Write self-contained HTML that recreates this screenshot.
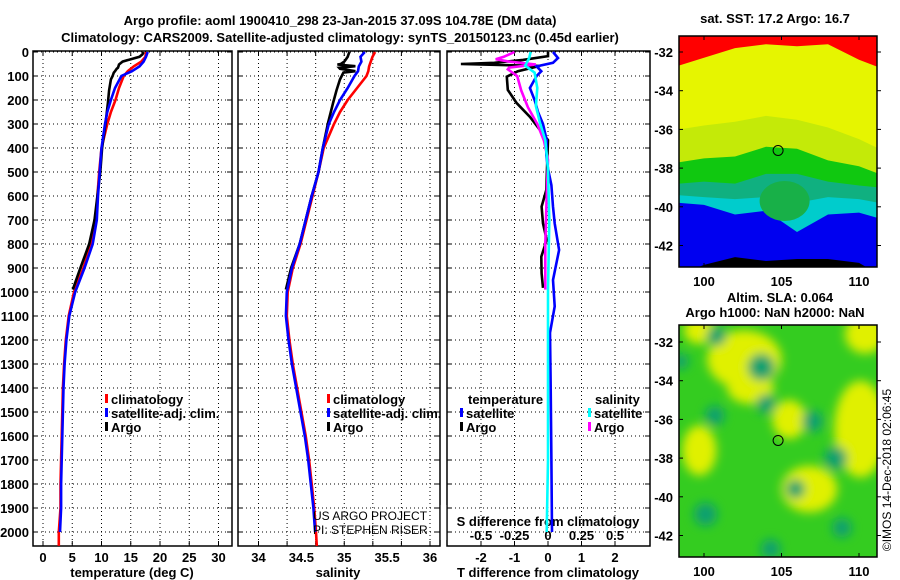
<!DOCTYPE html>
<html><head><meta charset="utf-8"><style>
body{margin:0;background:#fff}
svg{display:block}
text{font-family:"Liberation Sans",sans-serif;font-weight:bold;font-size:13px;fill:#000}
text.thin{font-weight:normal;font-size:12px}
</style></head><body>
<svg id="s" width="900" height="580" viewBox="0 0 900 580" xmlns="http://www.w3.org/2000/svg">
<text x="340" y="25" text-anchor="middle" font-size="14">Argo profile: aoml 1900410_298 23-Jan-2015 37.09S 104.78E (DM data)</text>
<text x="340" y="42" text-anchor="middle" font-size="14">Climatology: CARS2009. Satellite-adjusted climatology: synTS_20150123.nc (0.45d earlier)</text>
<g id="g"></g>
</svg>
<script>
// ---------- profile data ----------
const climDepth=[0,20,40,60,80,100,150,200,250,300,400,500,600,700,800,900,1000,1100,1200,1300,1400,1500,1600,1700,1800,1900,2000,2058];
const climT=[17.6,17.5,16.8,15.5,14.5,13.8,13.0,12.4,11.6,11.0,10.0,9.6,9.3,9.0,8.2,6.9,5.3,4.4,3.9,3.6,3.4,3.3,3.2,3.1,3.0,3.0,2.7,2.7];
const climS=[35.36,35.33,35.31,35.29,35.28,35.26,35.15,35.04,34.95,34.88,34.76,34.70,34.63,34.56,34.49,34.40,34.34,34.33,34.36,34.40,34.45,34.50,34.55,34.59,34.62,34.65,34.67,34.68];
const satDepth=[0,20,40,60,80,100,150,200,250,300,400,500,600,700,800,900,1000,1100,1200,1300,1400,1500,1600,1700,1800,1900,2000];
const satT=[17.9,17.6,17.2,16.5,15.2,13.4,12.3,11.6,11.0,10.6,10.0,9.7,9.4,9.2,8.5,7.1,5.5,4.5,4.0,3.7,3.5,3.4,3.3,3.2,3.1,3.1,2.9];
const satS=[35.24,35.19,35.20,35.17,35.16,35.12,35.04,34.95,34.88,34.82,34.75,34.70,34.62,34.55,34.48,34.39,34.33,34.32,34.35,34.39,34.44,34.49,34.54,34.58,34.61,34.64,34.66];
const argoDepth=[0,10,20,30,40,50,52,59,66,70,80,86,100,114,160,212,296,400,500,600,700,800,900,990];
const argoT=[17.2,17.0,16.5,15.0,13.6,13.1,13.0,12.9,12.8,12.6,12.3,12.1,11.9,11.6,11.3,11.1,10.7,10.1,9.8,9.3,8.8,7.9,6.4,5.1];
const argoS=[35.06,35.05,35.04,35.02,35.00,34.96,34.92,35.13,34.94,34.95,35.13,34.99,34.97,34.95,34.91,34.87,34.81,34.75,34.70,34.62,34.55,34.48,34.38,34.32];
const dTDepth=[0,17,33,45,50,58,80,103,158,212,270,325,367,450,575,644,714,783,853,922,983];
const argoDT=[0.0,0.0,-0.75,-1.6,-2.6,-0.24,-0.9,-1.23,-1.2,-0.94,-0.54,-0.24,0.0,-0.02,-0.05,-0.19,-0.15,-0.04,-0.2,-0.19,-0.15];
const satDTDepth=[0,25,45,60,80,100,150,200,250,300,367,430,486,555,644,714,825,880,950,1060,1170,1400,1700,2000];
const satDT=[0.15,0.3,0.15,-0.34,-0.2,-0.34,-0.54,-0.4,-0.3,-0.15,-0.04,-0.05,0.0,0.1,0.15,0.2,0.33,0.25,0.15,0.2,0.06,0.08,0.1,0.12];
const dSDepth=[0,20,30,40,52,65,72,100,160,230,300,370,450,600,800,990];
const argoDS=[-0.25,-0.33,-0.39,-0.29,-0.09,-0.29,-0.3,-0.23,-0.2,-0.15,-0.08,-0.03,0.0,-0.01,-0.02,-0.02];
const satDSDepth=[0,25,57,86,150,226,296,367,487,700,1000,1400,1700,2000];
const satDS=[-0.13,-0.14,-0.17,-0.1,-0.08,-0.09,-0.06,-0.02,0.0,0.01,0.0,0.0,0.0,-0.01];
const depthTicks=[0,100,200,300,400,500,600,700,800,900,1000,1100,1200,1300,1400,1500,1600,1700,1800,1900,2000];
const tTicks=[0,5,10,15,20,25,30];
const sTicks=[34,34.5,35,35.5,36];
const dtTicks=[-2,-1,0,1,2];
const dsTicks=[-0.5,-0.25,0,0.25,0.5];
const dsLabels=["-0.5","-0.25","0","0.25","0.5"];
// ---------- map data ----------
const mapLon=[98.4,100,102,104,106,108,110,111.3];
const redEdge=[-32.7,-32.3,-31.8,-31.6,-31.7,-31.6,-32.4,-32.8];
const lightEdge=[-36.0,-35.8,-35.6,-35.3,-35.5,-35.9,-36.5,-37.0];
const greenEdge=[-37.7,-37.5,-37.4,-36.9,-37.0,-37.6,-37.9,-38.3];
const tealEdge=[-38.8,-38.7,-38.8,-38.3,-38.3,-38.7,-38.9,-39.0];
const cyanEdge=[-39.4,-39.5,-39.6,-39.5,-39.8,-39.5,-39.6,-39.8];
const blueEdge=[-39.8,-39.9,-40.4,-40.2,-41.3,-40.4,-40.3,-40.6];
const blackEdge=[-43.5,-43.0,-42.6,-42.8,-42.7,-42.7,-42.9,-43.5];
const yBlobLon=[102.6,110.4,110.1,106.8,99.7,105.5,99.7,103.0];
const yBlobLat=[-32.9,-31.6,-36.5,-39.6,-37.6,-36.0,-31.4,-34.4];
const yBlobRx=[2.4,1.3,1.7,1.8,1.1,1.1,1.0,1.5];
const yBlobRy=[1.5,1.0,2.5,1.2,1.3,1.0,0.7,0.8];
const tBlobLon=[103.7,107.0,108.5,100.1,108.9,98.5,100.7,104.3,105.9,104.0,100.8];
const tBlobLat=[-33.3,-36.1,-38.0,-40.9,-41.6,-33.0,-35.8,-42.7,-39.6,-35.2,-31.7];
const tBlobR=[0.7,0.55,0.6,0.6,0.5,0.4,0.5,0.5,0.5,0.5,0.5];
const argoLon=104.78, argoLat=-37.09;

const NS='http://www.w3.org/2000/svg';
const G=document.getElementById('g');
function mk(tag,attrs,parent){const e=document.createElementNS(NS,tag);for(const k in attrs)e.setAttribute(k,attrs[k]);(parent||G).appendChild(e);return e;}
function txt(x,y,s,anchor,parent){const e=mk('text',{x:x,y:y,'text-anchor':anchor||'start'},parent);e.textContent=s;return e;}

const yD=d=>52+d*0.24;
const PT={x0:33,x1:232,f:t=>43+t*5.85};
const PS={x0:238,x1:440,f:s=>258.5+(s-34)*85.75};
const PD={x0:447,x1:650,f:t=>548+t*33.5};
const fDS=s=>548+s*134;
const Y0=51,Y1=546;

function frame(P,name,gridXs){
  const g=mk('g',{});
  
  
  depthTicks.forEach(d=>{const l=mk('line',{x1:P.x0,x2:P.x1,y1:yD(d),y2:yD(d),stroke:'#000','stroke-width':1,'stroke-dasharray':'1,3'},g);
    mk('line',{x1:P.x0,x2:P.x0+5,y1:yD(d),y2:yD(d),stroke:'#000'},g);mk('line',{x1:P.x1-5,x2:P.x1,y1:yD(d),y2:yD(d),stroke:'#000'},g);});
  gridXs.forEach(x=>{mk('line',{x1:x,x2:x,y1:Y0,y2:Y1,stroke:'#000','stroke-width':1,'stroke-dasharray':'1,3'},g);mk('line',{x1:x,x2:x,y1:Y1-5,y2:Y1,stroke:'#000'},g);mk('line',{x1:x,x2:x,y1:Y0,y2:Y0+5,stroke:'#000'},g);});
  const r=mk('rect',{x:P.x0,y:Y0,width:P.x1-P.x0,height:Y1-Y0,fill:'none',stroke:'#000','stroke-width':1.5},g);
  
  return g;
}
function line(P,f,depths,vals,color,name,w){
  const pts=depths.map((d,i)=>f(vals[i]).toFixed(1)+','+yD(d).toFixed(1)).join(' ');
  const e=mk('polyline',{points:pts,fill:'none',stroke:color,'stroke-width':w||2.6,'stroke-linejoin':'miter'});
  
  
}
const gx1=tTicks.map(PT.f);
const gx2=[];for(let s=34;s<=36.01;s+=1/3)gx2.push(PS.f(s));
const gx3=dtTicks.map(PD.f);
frame(PT,'temperature-panel',gx1);frame(PS,'salinity-panel',gx2);frame(PD,'difference-panel',gx3);

depthTicks.forEach(d=>{const t=txt(29,yD(d)+5,String(d),'end');});
tTicks.forEach(v=>{const t=txt(PT.f(v),562,String(v),'middle');});
sTicks.forEach(v=>{const t=txt(PS.f(v),562,String(v),'middle');});
dtTicks.forEach(v=>{const t=txt(PD.f(v),562,String(v),'middle');});
dsTicks.forEach((v,i)=>{const t=txt(fDS(v),540,dsLabels[i],'middle');});
let t;
t=txt(132,577,'temperature (deg C)','middle');
t=txt(338,577,'salinity','middle');
t=txt(548,577,'T difference from climatology','middle');
t=txt(548,526,'S difference from climatology','middle');

line(PT,PT.f,climDepth,climT,'#f00','temp-climatology-line');
line(PT,PT.f,argoDepth,argoT,'#000','temp-argo-line');
line(PT,PT.f,satDepth,satT,'#00f','temp-satellite-line');
line(PS,PS.f,climDepth,climS,'#f00','salinity-climatology-line');
line(PS,PS.f,argoDepth,argoS,'#000','salinity-argo-line');
line(PS,PS.f,satDepth,satS,'#00f','salinity-satellite-line');
line(PD,PD.f,dTDepth,argoDT,'#000','tdiff-argo-line');
line(PD,fDS,dSDepth,argoDS,'#f0f','sdiff-argo-line');
line(PD,PD.f,satDTDepth,satDT,'#00f','tdiff-satellite-line');
line(PD,fDS,satDSDepth,satDS,'#0ff','sdiff-satellite-line');

function leg(x,y,color,label,name){const g=mk('g',{});
  mk('rect',{x:x,y:y-10,width:3,height:9,fill:color},g);txt(x+6,y,label,'start',g);}
leg(105,404,'#f00','climatology','legend-climatology');
leg(105,418,'#00f','satellite-adj. clim.','legend-satellite-adj');
leg(105,432,'#000','Argo','legend-argo');
leg(327,404,'#f00','climatology','legend-sal-climatology');
leg(327,418,'#00f','satellite-adj. clim.','legend-sal-satellite-adj');
leg(327,432,'#000','Argo','legend-sal-argo');
t=txt(468,404,'temperature');
t=txt(595,404,'salinity');
leg(460,418,'#00f','satellite','legend-tdiff-satellite');
leg(460,432,'#000','Argo','legend-tdiff-argo');
leg(588,418,'#0ff','satellite','legend-sdiff-satellite');
leg(588,432,'#f0f','Argo','legend-sdiff-argo');
const c1=mk('text',{x:313,y:520,'class':'thin','fill':'#222'});c1.textContent='US ARGO PROJECT';
const c2=mk('text',{x:313,y:534,'class':'thin','fill':'#222'});c2.textContent='PI: STEPHEN RISER';
// mask credits beyond panel edge
mk('rect',{x:440.8,y:505,width:5.4,height:35,fill:'#fff'});

// ---------- maps ----------
const MX0=679,MX1=877;
const mx=lon=>704+(lon-100)*15.5;
const TOP=36,BOT=267;
const my1=lat=>52+(-32-lat)*19.35;
const defs=mk('defs',{});
const cp1=mk('clipPath',{id:'c1'},defs);mk('rect',{x:MX0,y:TOP,width:MX1-MX0,height:BOT-TOP},cp1);
const cp2=mk('clipPath',{id:'c2'},defs);mk('rect',{x:MX0,y:325,width:MX1-MX0,height:232},cp2);
const bl=mk('filter',{id:'bl',x:'-50%',y:'-50%',width:'200%',height:'200%'},defs);mk('feGaussianBlur',{stdDeviation:5},bl);
const m1=mk('g',{'clip-path':'url(#c1)'});
mk('rect',{x:MX0,y:TOP,width:MX1-MX0,height:BOT-TOP,fill:'#e6f500'},m1);
function band(edge,color,down,name){
  let pts=mapLon.map((l,i)=>mx(l).toFixed(1)+','+my1(edge[i]).toFixed(1));
  const yy=down?BOT+5:TOP-5;
  pts.push(mx(mapLon[mapLon.length-1])+','+yy);pts.push(mx(mapLon[0])+','+yy);
  const p=mk('polygon',{points:pts.join(' '),fill:color},m1);
  
}
band(redEdge,'#f00',false,'sst-red-band');
band(lightEdge,'#c4ea08',true,'sst-lightgreen-band');
band(greenEdge,'#10c810',true,'sst-green-band');
band(tealEdge,'#10b080',true,'sst-teal-band');
band(cyanEdge,'#00cccc',true,'sst-cyan-band');
band(blueEdge,'#0000f0',true,'sst-blue-band');
const gb=mk('ellipse',{cx:mx(105.2),cy:my1(-39.7),rx:25,ry:20,fill:'#18b048'},m1);
band(blackEdge,'#000',true,'sst-black-band');
mk('rect',{x:MX0,y:TOP,width:MX1-MX0,height:BOT-TOP,fill:'none',stroke:'#000','stroke-width':1.5});
const ac1=mk('circle',{cx:mx(argoLon),cy:my1(argoLat),r:5,fill:'none',stroke:'#000','stroke-width':1});
const my2=lat=>342+(-32-lat)*19.35;
const m2=mk('g',{'clip-path':'url(#c2)'});
mk('rect',{x:MX0,y:325,width:MX1-MX0,height:232,fill:'#34cc20'},m2);
const fg=mk('g',{filter:'url(#bl)'},m2);
yBlobLon.forEach((l,i)=>{const e=mk('ellipse',{cx:mx(l),cy:my2(yBlobLat[i]),rx:yBlobRx[i]*15.5,ry:yBlobRy[i]*19.35,fill:'#e0f000'},fg);});
tBlobLon.forEach((l,i)=>{const e=mk('circle',{cx:mx(l),cy:my2(tBlobLat[i]),r:tBlobR[i]*19.35,fill:'#10a070'},fg);});
mk('rect',{x:MX0,y:325,width:MX1-MX0,height:232,fill:'none',stroke:'#000','stroke-width':1.5});
const ac2=mk('circle',{cx:mx(argoLon),cy:my2(argoLat),r:5,fill:'none',stroke:'#000','stroke-width':1});
const latTicks=[-32,-34,-36,-38,-40,-42];const lonTicks=[100,105,110];
[[my1,TOP,BOT,286],[my2,325,557,576]].forEach(([my,tp,bt,ly])=>{
  latTicks.forEach(la=>{mk('line',{x1:MX0,x2:MX0+4,y1:my(la),y2:my(la),stroke:'#000'});mk('line',{x1:MX1,x2:MX1+4,y1:my(la),y2:my(la),stroke:'#000'});
    const t=txt(673,my(la)+5,String(la),'end');});
  lonTicks.forEach(lo=>{mk('line',{x1:mx(lo),x2:mx(lo),y1:bt,y2:bt-4,stroke:'#000'});mk('line',{x1:mx(lo),x2:mx(lo),y1:tp,y2:tp+4,stroke:'#000'});
    const t=txt(mx(lo),ly,String(lo),'middle');});
});
t=txt(775,23,'sat. SST: 17.2 Argo: 16.7','middle');
t=txt(780,302,'Altim. SLA: 0.064','middle');
t=txt(775,317,'Argo h1000: NaN h2000: NaN','middle');
const rot=mk('text',{x:0,y:0,transform:'translate(891,470) rotate(-90)','text-anchor':'middle','class':'thin'});rot.textContent='©IMOS 14-Dec-2018 02:06:45';
</script>
</body></html>
